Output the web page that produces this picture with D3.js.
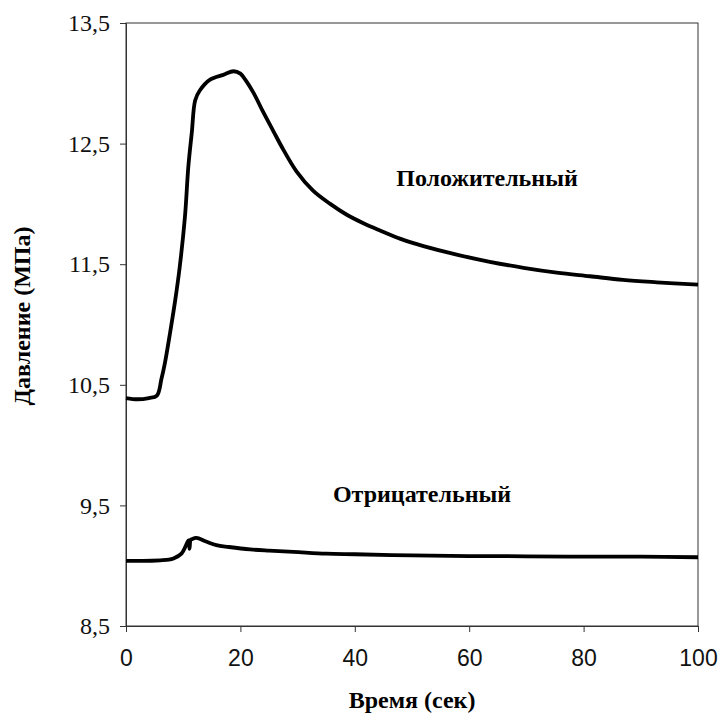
<!DOCTYPE html>
<html lang="ru">
<head>
    <meta charset="UTF-8">
    <script src="https://d3js.org/d3.v7.min.js"></script>
    <style>
        body { margin: 0; background: #fff; }
        svg { display: block; }
    </style>
</head>
<body>
    <svg width="720" height="722"></svg>
    <script>
        // время (с) и давление (МПа)
        const posTime = [0, 2, 4, 5.4, 6.2, 6.8, 7.7, 8.6, 9.4, 10.3, 10.9, 11.5, 12.1, 12.9, 14.7, 17.0, 18.8, 20.0, 21.0, 22.3, 24.0, 25.8, 27.5, 29.8, 32.7, 35.7, 38.6, 41.5, 44.4, 48, 52, 57.8, 63.6, 69.5, 75.3, 81.1, 86.9, 92.8, 100];
        const posValue = [10.39, 10.38, 10.39, 10.41, 10.55, 10.68, 10.93, 11.2, 11.48, 11.89, 12.31, 12.59, 12.86, 12.94, 13.03, 13.07, 13.10, 13.08, 13.02, 12.92, 12.76, 12.60, 12.45, 12.27, 12.11, 12.00, 11.91, 11.84, 11.78, 11.71, 11.65, 11.58, 11.52, 11.47, 11.43, 11.40, 11.37, 11.35, 11.33];

        const negTime = [0, 3, 6, 7.5, 8.3, 9.7, 10.7, 10.95, 11.1, 11.3, 11.5, 12.3, 14, 15.8, 18, 21.7, 25, 29.3, 35, 40, 50, 60, 70, 80, 90, 100];
        const negValue = [9.04, 9.04, 9.045, 9.05, 9.06, 9.10, 9.19, 9.21, 9.14, 9.215, 9.22, 9.23, 9.20, 9.17, 9.155, 9.135, 9.125, 9.115, 9.10, 9.095, 9.085, 9.08, 9.078, 9.075, 9.075, 9.07];

        const xTicks = [0, 20, 40, 60, 80, 100];
        const yTicks = [8.5, 9.5, 10.5, 11.5, 12.5, 13.5];

        const svg = d3.select("svg");
        const margin = { top: 23, right: 22, bottom: 96, left: 126 };
        const width = 720 - margin.left - margin.right;
        const height = 722 - margin.top - margin.bottom;

        const g = svg.append("g").attr("transform", `translate(${margin.left},${margin.top})`);

        const x = d3.scaleLinear().domain([0, 100]).range([0, width]);
        const y = d3.scaleLinear().domain([8.5, 13.5]).range([height, 0]);

        const fmt = d => String(d).replace(".", ",");
        const serif = "'Liberation Serif', 'Times New Roman', serif";

        // рамка
        g.append("rect")
            .attr("x", 0).attr("y", 0)
            .attr("width", width).attr("height", height)
            .attr("fill", "none")
            .attr("stroke", "#333")
            .attr("stroke-width", 1);

        const yAxis = g.append("g")
            .call(d3.axisLeft(y).tickValues(yTicks).tickFormat(fmt).tickSize(6).tickPadding(10));
        yAxis.select(".domain").attr("stroke", "#333");
        yAxis.selectAll(".tick line").attr("stroke", "#333");
        yAxis.selectAll("text")
            .style("font-family", serif)
            .style("font-size", "24px")
            .attr("fill", "#111");

        const xAxis = g.append("g")
            .attr("transform", `translate(0,${height})`)
            .call(d3.axisBottom(x).tickValues(xTicks).tickSize(6).tickPadding(18));
        xAxis.select(".domain").attr("stroke", "#333");
        xAxis.selectAll(".tick line").attr("stroke", "#333");
        xAxis.selectAll("text")
            .style("font-family", "'Liberation Sans', Arial, sans-serif")
            .style("font-size", "23px")
            .attr("fill", "#111");

        const line = d3.line()
            .x(d => x(d[0]))
            .y(d => y(d[1]))
            .curve(d3.curveCatmullRom.alpha(0.5));

        const series = [
            d3.zip(posTime, posValue),
            d3.zip(negTime, negValue)
        ];

        g.selectAll(".series")
            .data(series)
            .enter()
            .append("path")
            .attr("class", "series")
            .attr("d", line)
            .attr("fill", "none")
            .attr("stroke", "#000")
            .attr("stroke-width", 3.8)
            .attr("stroke-linejoin", "round");

        function label(sel, txt) {
            return sel.attr("text-anchor", "middle")
                .style("font-family", serif)
                .style("font-weight", "bold")
                .style("font-size", "24px")
                .text(txt);
        }

        label(g.append("text").attr("x", 487 - margin.left).attr("y", 186 - margin.top), "Положительный");
        label(g.append("text").attr("x", 422 - margin.left).attr("y", 502 - margin.top), "Отрицательный");
        label(svg.append("text").attr("x", margin.left + width / 2).attr("y", 708), "Время (сек)");
        label(svg.append("text").attr("transform", "translate(30,316) rotate(-90)"), "Давление (МПа)");
    </script>
</body>
</html>
